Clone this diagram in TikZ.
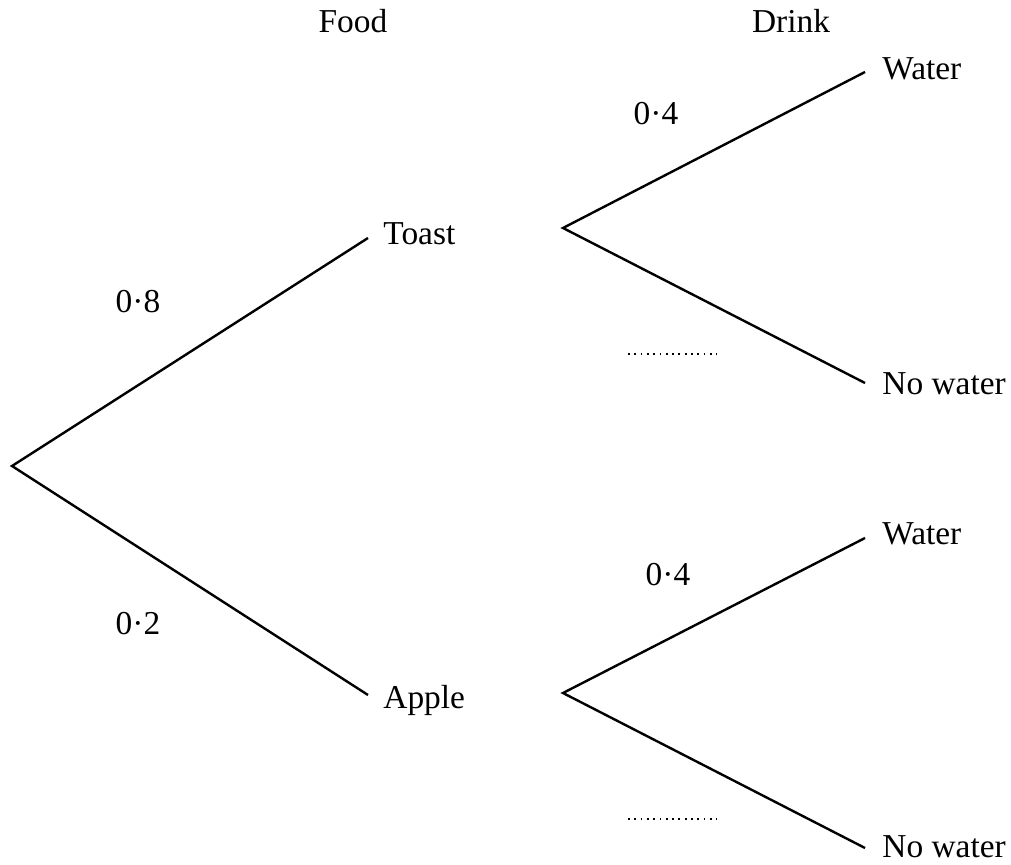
\documentclass[tikz,border=0pt]{standalone}
\usepackage{fontspec}
\setmainfont{Liberation Serif}
\begin{document}
\begin{tikzpicture}[x=0.5pt,y=-0.5pt,
  branch/.style={line width=1.2pt},
  lbl/.style={inner sep=0pt, anchor=base west, font=\fontsize{16.7}{20}\selectfont},
  prob/.style={inner sep=0pt, anchor=base, font=\fontsize{16.7}{20}\selectfont},
  head/.style={inner sep=0pt, anchor=base, font=\fontsize{16.7}{20}\selectfont},
  blank/.style={line width=0.9pt, dash pattern=on 0.9pt off 2.25pt}]
\useasboundingbox (0,0) rectangle (1011,865);
% branch points
\coordinate (root) at (12,466);
\coordinate (toastEnd) at (368,238);
\coordinate (appleEnd) at (368,695);
\coordinate (troot) at (563,228);
\coordinate (tw) at (865,72);
\coordinate (tn) at (865,383);
\coordinate (aroot) at (563,693);
\coordinate (aw) at (865,538);
\coordinate (an) at (865,848);
% headings
\node[head] (food) at (353,33) {Food};
\node[head] (drink) at (791,33) {Drink};
% outcome labels
\node[lbl] (toast) at (383,245) {Toast};
\node[lbl] (apple) at (383,708) {Apple};
\node[lbl] (water1) at (882,80) {Water};
\node[lbl] (nowater1) at (882,395) {No water};
\node[lbl] (water2) at (882,545) {Water};
\node[lbl] (nowater2) at (882,857) {No water};
% probabilities
\node[prob] (p08) at (138,313) {0·8};
\node[prob] (p02) at (138,634) {0·2};
\node[prob] (p04a) at (656,125) {0·4};
\node[prob] (p04b) at (668,585) {0·4};
% branches
\draw[branch] (toastEnd) -- (root) -- (appleEnd);
\draw[branch] (tw) -- (troot) -- (tn);
\draw[branch] (aw) -- (aroot) -- (an);
% blanks
\coordinate (b1s) at (628,354);
\coordinate (b1e) at (717,354);
\coordinate (b2s) at (628,819);
\coordinate (b2e) at (717,819);
\draw[blank] (b1s) -- (b1e);
\draw[blank] (b2s) -- (b2e);
\end{tikzpicture}
\end{document}
